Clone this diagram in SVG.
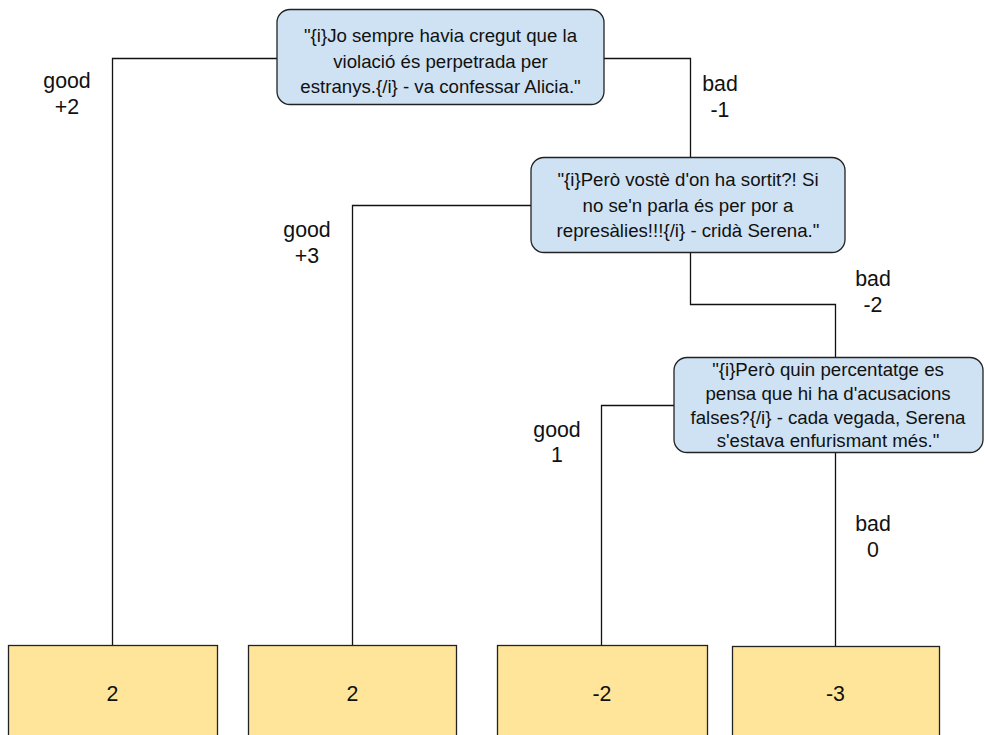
<svg xmlns="http://www.w3.org/2000/svg" width="984" height="735" viewBox="0 0 984 735">
<style>
.q{fill:#cfe2f3;stroke:#222;stroke-width:1.3}
.leaf{fill:#ffe599;stroke:#222;stroke-width:1.3}
.t{font-family:"Liberation Sans",Arial,sans-serif;font-size:18.67px;fill:#111;text-anchor:middle}
.lt{font-family:"Liberation Sans",Arial,sans-serif;font-size:21.33px;fill:#111;text-anchor:middle}
.c{fill:none;stroke:#111;stroke-width:1.3}
</style>
<rect width="984" height="735" fill="#fff"/>
<g id="connectors">
<polyline class="c" points="277,58.5 112.5,58.5 112.5,645"/>
<polyline class="c" points="604,58.5 690.5,58.5 690.5,157"/>
<polyline class="c" points="531,205.5 352.5,205.5 352.5,645"/>
<polyline class="c" points="690.5,252 690.5,304.5 835.5,304.5 835.5,357"/>
<polyline class="c" points="674,405.5 601.5,405.5 601.5,645"/>
<polyline class="c" points="835.5,452 835.5,646"/>
<text class="lt" x="67" y="88">good</text>
<text class="lt" x="67" y="114">+2</text>
<text class="lt" x="720" y="91">bad</text>
<text class="lt" x="720" y="117">-1</text>
<text class="lt" x="307" y="237">good</text>
<text class="lt" x="307" y="263">+3</text>
<text class="lt" x="873" y="286">bad</text>
<text class="lt" x="873" y="312">-2</text>
<text class="lt" x="557" y="437">good</text>
<text class="lt" x="557" y="462">1</text>
<text class="lt" x="873" y="531">bad</text>
<text class="lt" x="873" y="557">0</text>
</g>
<g id="q1">
<rect class="q" x="277" y="9.5" width="327" height="95" rx="13"/>
<text class="t" x="440.5" y="42">"{i}Jo sempre havia cregut que la</text>
<text class="t" x="440.5" y="67.5">violació és perpetrada per</text>
<text class="t" x="440.5" y="93">estranys.{/i} - va confessar Alicia."</text>
</g>
<g id="q2">
<rect class="q" x="531" y="157.5" width="314" height="95" rx="13"/>
<text class="t" x="688" y="186">"{i}Però vostè d'on ha sortit?! Si</text>
<text class="t" x="688" y="211.5">no se'n parla és per por a</text>
<text class="t" x="688" y="237">represàlies!!!{/i} - cridà Serena."</text>
</g>
<g id="q3">
<rect class="q" x="674" y="357.5" width="309" height="95" rx="13"/>
<text class="t" x="828" y="376">"{i}Però quin percentatge es</text>
<text class="t" x="828" y="400">pensa que hi ha d'acusacions</text>
<text class="t" x="828" y="424">falses?{/i} - cada vegada, Serena</text>
<text class="t" x="828" y="447">s'estava enfurismant més."</text>
</g>
<g id="leaf1">
<rect class="leaf" x="8.5" y="645.5" width="209" height="95"/>
<text class="lt" x="112.5" y="701">2</text>
</g>
<g id="leaf2">
<rect class="leaf" x="248.5" y="645.5" width="208" height="95"/>
<text class="lt" x="352.5" y="701">2</text>
</g>
<g id="leaf3">
<rect class="leaf" x="497.5" y="645.5" width="210" height="95"/>
<text class="lt" x="602" y="701">-2</text>
</g>
<g id="leaf4">
<rect class="leaf" x="732.5" y="646.5" width="207" height="95"/>
<text class="lt" x="835.5" y="701">-3</text>
</g>
</svg>
